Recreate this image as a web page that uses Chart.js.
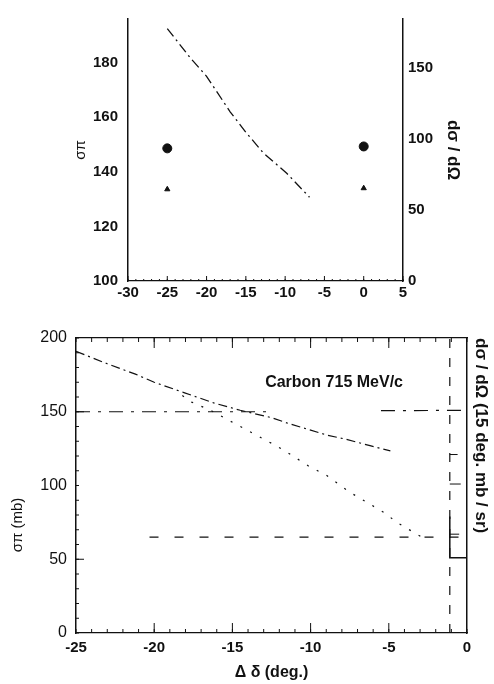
<!DOCTYPE html>
<html>
<head>
<meta charset="utf-8">
<title>Carbon 715 MeV/c</title>
<script src="https://cdn.jsdelivr.net/npm/chart.js@4.4.1/dist/chart.umd.min.js"></script>
<style>
  html, body { margin: 0; padding: 0; background: #fff; }
  #wrap { position: relative; width: 494px; height: 684px; overflow: hidden; }
  #topChart { position: absolute; left: 0; top: 0; }
  #lowChart { position: absolute; left: 0; top: 318px; }
</style>
</head>
<body>
<div id="wrap">
  <canvas id="topChart" width="494" height="305"></canvas>
  <canvas id="lowChart" width="494" height="366"></canvas>
</div>
<script>
// ---- upper panel ----
const topTicksX = [-30, -25, -20, -15, -10, -5, 0, 5];
const topTicksLeft = [100, 120, 140, 160, 180];
const topTicksRight = [0, 50, 100, 150];
const topCurveX = [-25, -22, -20, -17, -15, -12.8, -9.8, -6.9];
const topCurveY = [192.5, 181.5, 175, 162, 154.5, 147, 139.5, 130.7];
const dotX = [-25, 0];
const dotY = [148.6, 149.3];
const triX = [-25, 0];
const triY = [133.6, 134];

// ---- lower panel ----
const lowTicksX = [-25, -20, -15, -10, -5, 0];
const lowTicksY = [0, 50, 100, 150, 200];
const fitAX = [-25, -23, -21.2, -20, -18.1, -16.2, -14.5, -12.5, -11.4, -8.9, -7.8, -6.2, -4.9];
const fitAY = [191, 182.5, 175.5, 170, 163, 156, 151, 146, 142, 134, 131.5, 127, 123.5];
const fitBX = [-18.2, -17.6, -16.4, -15.2, -12.3, -11.5, -10.1, -9, -7.5, -5.2, -4.5, -2.8];
const fitBY = [161, 156.5, 151, 144, 127.5, 122.5, 113, 107, 95.5, 81, 75, 64.5];
const level150X = [-25, -12.5, -12.4, -5.5, 0];
const level150Y = [150, 150, null, 150.7, 151];
const level65X = [-20.3, -0.3];
const level65Y = [65, 65];
const edgeX = [-1.1, -1.1];
const edgeY = [0, 200];
const boxX = [-1.1, -1.1, 0];
const boxY = [79, 51, 51];
const markX = [-1.1, -0.6, -0.6, -1.1, -0.4, -0.4, -1.1, -0.5];
const markY = [121, 121, null, 101, 101, null, 67, 67];

const ink = '#111';
const pts = (xs, ys) => xs.map((x, i) => ({ x, y: ys[i] }));
const fixTicks = list => scale => { scale.ticks = list.map(v => ({ value: v })); };
const steps = (a, b, s) => { const out = []; for (let v = a; v <= b; v += s) out.push(v); return out; };

// small ticks pointing into the plot, like the scanned figure
const inTicks = {
  id: 'inTicks',
  afterDatasetsDraw(chart, args, opts) {
    const ctx = chart.ctx;
    const area = chart.chartArea;
    (opts.marks || []).forEach(m => {
      const sc = chart.scales[m.scale];
      ctx.save();
      ctx.strokeStyle = ink;
      ctx.lineWidth = m.width || 1;
      m.values.forEach(v => {
        const p = sc.getPixelForValue(v);
        ctx.beginPath();
        if (m.edge === 'bottom') { ctx.moveTo(p, area.bottom); ctx.lineTo(p, area.bottom - m.len); }
        if (m.edge === 'top') { ctx.moveTo(p, area.top); ctx.lineTo(p, area.top + m.len); }
        if (m.edge === 'left') { ctx.moveTo(area.left, p); ctx.lineTo(area.left + m.len, p); }
        ctx.stroke();
      });
      ctx.restore();
    });
  }
};

// free text placed through the scales (or in canvas pixels)
const freeText = {
  id: 'freeText',
  afterDraw(chart, args, opts) {
    const ctx = chart.ctx;
    (opts.items || []).forEach(t => {
      let px = t.px, py = t.py;
      if (t.x !== undefined) {
        px = chart.scales[t.xScale].getPixelForValue(t.x);
        py = chart.scales[t.yScale].getPixelForValue(t.y);
      }
      ctx.save();
      ctx.translate(px, py);
      ctx.rotate(t.rotate || 0);
      ctx.font = t.font;
      ctx.fillStyle = ink;
      ctx.textAlign = 'center';
      ctx.textBaseline = 'middle';
      ctx.fillText(t.text, 0, 0);
      ctx.restore();
    });
  }
};

const fam = '"Liberation Sans", Arial, sans-serif';
const topFont = { family: fam, size: 15, weight: 'bold' };
const lowXFont = { family: fam, size: 15, weight: 'bold' };
const lowYFont = { family: fam, size: 16 };

new Chart(document.getElementById('topChart'), {
  type: 'scatter',
  data: {
    datasets: [
      { data: pts(topCurveX, topCurveY), showLine: true, borderColor: ink, borderWidth: 1.3,
        borderDash: [10, 4, 2, 4], pointRadius: 0, yAxisID: 'yL' },
      { data: pts(dotX, dotY), pointStyle: 'circle', pointRadius: 4.5,
        backgroundColor: ink, borderColor: ink, yAxisID: 'yL' },
      { data: pts(triX, triY), pointStyle: 'triangle', pointRadius: 3,
        backgroundColor: ink, borderColor: ink, yAxisID: 'yL' }
    ]
  },
  options: {
    responsive: false,
    animation: false,
    layout: { padding: { top: 13, left: 0, right: 0, bottom: 0 } },
    plugins: {
      legend: { display: false },
      tooltip: { enabled: false },
      inTicks: { marks: [
        { scale: 'x', edge: 'bottom', len: 2, values: steps(-30, 5, 1) },
        { scale: 'x', edge: 'bottom', len: 5, values: topTicksX }
      ] }
    },
    scales: {
      x: {
        type: 'linear', position: 'bottom', min: -30, max: 5,
        afterBuildTicks: fixTicks(topTicksX),
        afterFit: s => { s.height = 24; },
        grid: { display: false, drawTicks: false },
        border: { color: ink, width: 1.3, dash: [7, 3] },
        ticks: { color: ink, font: topFont, padding: 3, maxRotation: 0 }
      },
      yL: {
        type: 'linear', position: 'left', min: 100, max: 196,
        afterBuildTicks: fixTicks(topTicksLeft),
        afterFit: s => { s.width = 128; },
        grid: { display: false, drawTicks: false },
        border: { color: ink, width: 1.5 },
        ticks: { color: ink, font: topFont, padding: 10 },
        title: { display: true, text: 'σπ', color: ink, font: { family: fam, size: 15 },
          padding: { top: 72, bottom: 0 } }
      },
      yR: {
        type: 'linear', position: 'right', min: 0, max: 184,
        afterBuildTicks: fixTicks(topTicksRight),
        afterFit: s => { s.width = 91; },
        grid: { display: false, drawTicks: false },
        border: { color: ink, width: 1.5 },
        ticks: { color: ink, font: topFont, padding: 5 },
        title: { display: true, text: 'dσ / dΩ', color: ink,
          font: { family: fam, size: 17, weight: 'bold' }, padding: { top: 31, bottom: 0 } }
      }
    }
  },
  plugins: [inTicks]
});

new Chart(document.getElementById('lowChart'), {
  type: 'scatter',
  data: {
    datasets: [
      { data: pts(fitAX, fitAY), showLine: true, borderColor: ink, borderWidth: 1.2,
        borderDash: [9, 4, 2, 4], pointRadius: 0 },
      { data: pts(fitBX, fitBY), showLine: true, borderColor: ink, borderWidth: 1.2,
        borderDash: [2, 9], pointRadius: 0 },
      { data: pts(level150X, level150Y), showLine: true, borderColor: ink, borderWidth: 1.2,
        borderDash: [14, 8, 3, 8], pointRadius: 0, spanGaps: false },
      { data: pts(level65X, level65Y), showLine: true, borderColor: ink, borderWidth: 1.2,
        borderDash: [9, 16], pointRadius: 0 },
      { data: pts(edgeX, edgeY), showLine: true, borderColor: ink, borderWidth: 1.2,
        borderDash: [9, 10], pointRadius: 0 },
      { data: pts(boxX, boxY), showLine: true, borderColor: ink, borderWidth: 1.5,
        pointRadius: 0 },
      { data: pts(markX, markY), showLine: true, borderColor: ink, borderWidth: 1,
        pointRadius: 0, spanGaps: false }
    ]
  },
  options: {
    responsive: false,
    animation: false,
    layout: { padding: { top: 20, left: 0, right: 0, bottom: 0 } },
    plugins: {
      legend: { display: false },
      tooltip: { enabled: false },
      inTicks: { marks: [
        { scale: 'x', edge: 'bottom', len: 4, values: steps(-25, 0, 1) },
        { scale: 'x', edge: 'bottom', len: 10, values: [-20, -15, -10, -5] },
        { scale: 'x', edge: 'top', len: 4, values: steps(-25, 0, 1) },
        { scale: 'x', edge: 'top', len: 10, values: [-20, -15, -10, -5] },
        { scale: 'y', edge: 'left', len: 3, values: steps(0, 200, 10) },
        { scale: 'y', edge: 'left', len: 8, values: [50, 150] }
      ] },
      freeText: { items: [
        { text: 'Carbon 715 MeV/c', x: -8.5, y: 170, xScale: 'x', yScale: 'y', font: 'bold 16px ' + fam },
        { text: 'σπ (mb)', px: 18, py: 207, rotate: -Math.PI / 2, font: '15px ' + fam }
      ] }
    },
    scales: {
      x: {
        type: 'linear', position: 'bottom', min: -25, max: 0,
        afterBuildTicks: fixTicks(lowTicksX),
        afterFit: s => { s.height = 51; },
        grid: { display: false, drawTicks: false },
        border: { color: ink, width: 1.3, dash: [8, 3, 2, 3] },
        ticks: { color: ink, font: lowXFont, padding: 6, maxRotation: 0 },
        title: { display: true, text: 'Δ δ (deg.)', color: ink,
          font: { family: fam, size: 16, weight: 'bold' }, padding: { top: 0, bottom: 2 } }
      },
      xTop: {
        type: 'linear', position: 'top', min: -25, max: 0,
        afterFit: s => { s.height = 0; },
        grid: { display: false, drawTicks: false },
        border: { color: ink, width: 1.3, dash: [6, 5] },
        ticks: { display: false }
      },
      y: {
        type: 'linear', position: 'left', min: 0, max: 200,
        afterBuildTicks: fixTicks(lowTicksY),
        afterFit: s => { s.width = 76; },
        grid: { display: false, drawTicks: false },
        border: { color: ink, width: 1.5 },
        ticks: { color: ink, font: lowYFont, padding: 9 }
      },
      yR: {
        type: 'linear', position: 'right', min: 0, max: 200,
        afterFit: s => { s.width = 27; },
        grid: { display: false, drawTicks: false },
        border: { color: ink, width: 1.5 },
        ticks: { display: false },
        title: { display: true, text: 'dσ / dΩ (15 deg. mb / sr)', color: ink, align: 'end',
          font: { family: fam, size: 17, weight: 'bold' }, padding: { top: 3, bottom: 0 } }
      }
    }
  },
  plugins: [inTicks, freeText]
});
</script>
</body>
</html>
